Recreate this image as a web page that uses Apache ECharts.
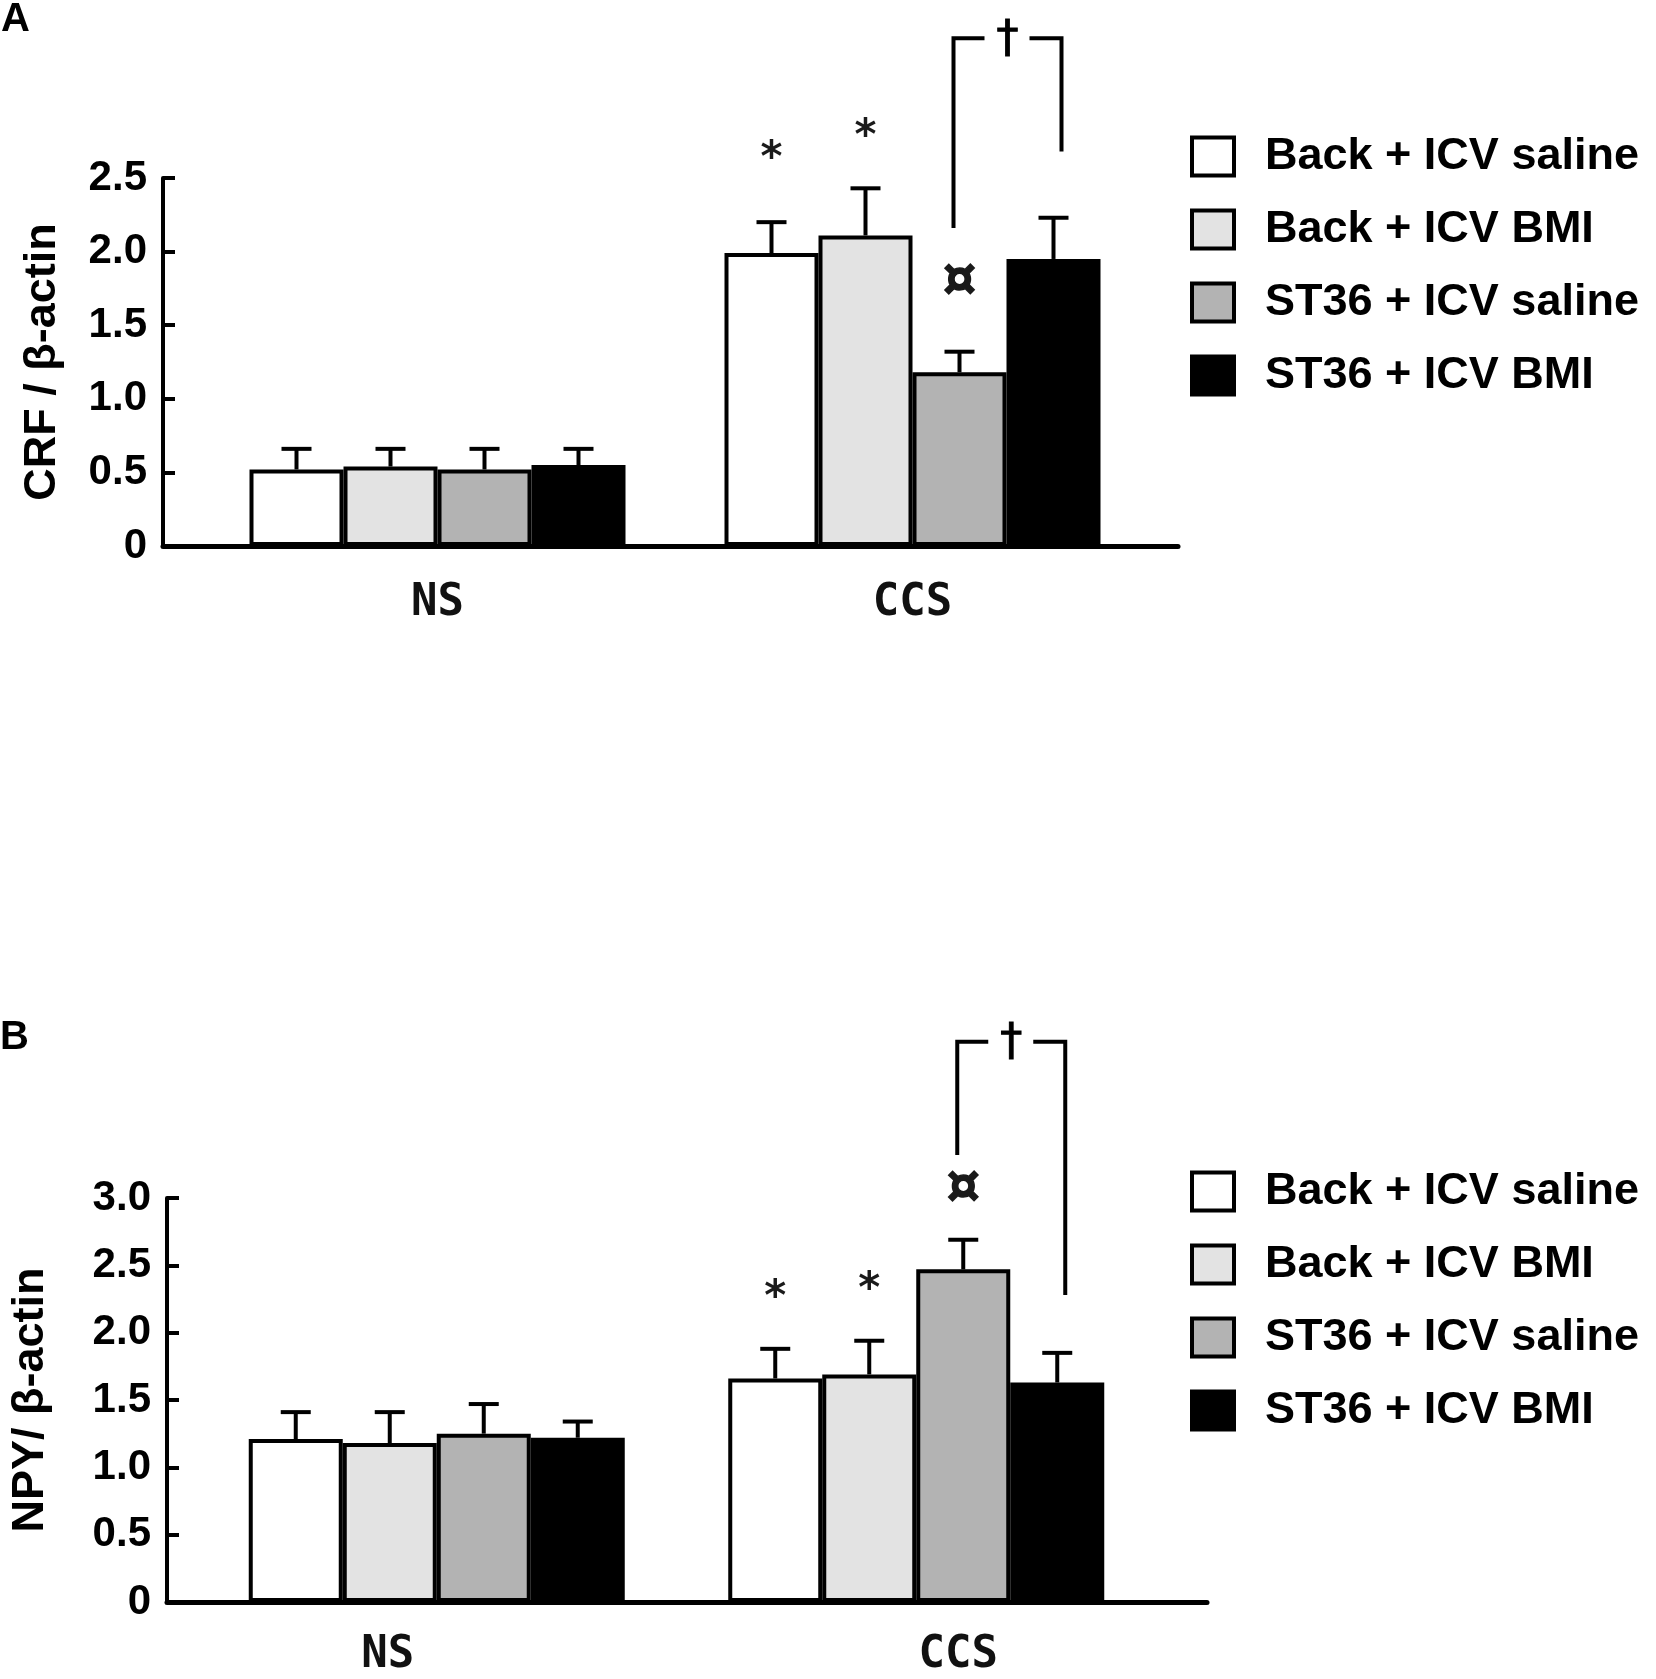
<!DOCTYPE html>
<html>
<head>
<meta charset="utf-8">
<script src="https://cdn.jsdelivr.net/npm/echarts@6/dist/echarts.min.js"></script>
<style>html,body{margin:0;padding:0;background:#fff;}#c{width:1656px;height:1679px;}</style>
</head>
<body>
<div id="c"></div>
<script>
// ---------- data ----------
const categories = ['NS', 'CCS'];
const seriesNames = ['Back + ICV saline', 'Back + ICV BMI', 'ST36 + ICV saline', 'ST36 + ICV BMI'];
const barColors = ['#ffffff', '#e3e3e3', '#b3b3b3', '#000000'];

// Panel A: CRF / beta-actin  (mean per category [NS, CCS]) and SEM
const crfBackSaline = [0.52, 1.99];
const crfBackBMI    = [0.54, 2.11];
const crfST36Saline = [0.52, 1.18];
const crfST36BMI    = [0.55, 1.95];
const crfBackSalineErr = [0.14, 0.21];
const crfBackBMIErr    = [0.12, 0.32];
const crfST36SalineErr = [0.14, 0.14];
const crfST36BMIErr    = [0.11, 0.28];

// Panel B: NPY / beta-actin
const npyBackSaline = [1.21, 1.66];
const npyBackBMI    = [1.18, 1.69];
const npyST36Saline = [1.25, 2.47];
const npyST36BMI    = [1.22, 1.63];
const npyBackSalineErr = [0.20, 0.22];
const npyBackBMIErr    = [0.23, 0.25];
const npyST36SalineErr = [0.22, 0.22];
const npyST36BMIErr    = [0.12, 0.22];

const crfTicks = { min: 0, max: 2.5, interval: 0.5 };
const npyTicks = { min: 0, max: 3.0, interval: 0.5 };

// significance marks: [categoryIndex, seriesIndex, yValue, symbol]
const crfMarks = [[1, 0, 2.62, '*'], [1, 1, 2.77, '*'], [1, 2, 1.80, '¤']];
const npyMarks = [[1, 0, 2.25, '*'], [1, 1, 2.31, '*'], [1, 2, 3.07, '¤']];
// brackets: [categoryIndex, fromSeries, toSeries, leftBottomY, rightBottomY, topY]
const crfBracket = [[1, 2, 3, 2.16, 2.68, 3.45]];
const npyBracket = [[1, 2, 3, 3.32, 2.28, 4.16]];

// ---------- layout/style ----------
const BAR_W = 94;
const FONT = 'Liberation Sans';
const LW = 4;

function errData(means, errs) {
  const out = [];
  means.forEach((m, s) => m.forEach((v, c) => out.push([c, v, errs[s][c], s])));
  return out;
}
function xOf(api, cat, s) {
  return api.coord([cat, 0])[0] + (s - 1.5) * BAR_W;
}
function errRender(params, api) {
  const cat = api.value(0), mean = api.value(1), err = api.value(2), s = api.value(3);
  const x = xOf(api, cat, s);
  const y0 = api.coord([cat, mean])[1];
  const y1 = api.coord([cat, mean + err])[1];
  const st = { stroke: '#000', lineWidth: LW };
  return { type: 'group', children: [
    { type: 'line', shape: { x1: x, y1: y0, x2: x, y2: y1 }, style: st },
    { type: 'line', shape: { x1: x - 15, y1: y1, x2: x + 15, y2: y1 }, style: st }
  ]};
}
function markRender(marks) {
  return function (params, api) {
    const m = marks[params.dataIndex];
    const x = xOf(api, m[0], m[1]);
    const y = api.coord([m[0], m[2]])[1];
    const isStar = m[3] === '*';
    return { type: 'text', x: x, y: y, style: {
      text: m[3], fill: '#1a1a1a', align: 'center', verticalAlign: 'middle',
      font: isStar ? 'bold 42px "DejaVu Sans"' : 'bold 52px "DejaVu Sans"',
      stroke: isStar ? null : '#1a1a1a', lineWidth: isStar ? 0 : 1.5
    }};
  };
}
function bracketRender(params, api) {
  const cat = api.value(0), a = api.value(1), b = api.value(2);
  const xl = xOf(api, cat, a) - 6, xr = xOf(api, cat, b) + 8;
  const yl = api.coord([cat, api.value(3)])[1];
  const yr = api.coord([cat, api.value(4)])[1];
  const yt = api.coord([cat, api.value(5)])[1];
  const xm = (xl + xr) / 2;
  const st = { stroke: '#000', lineWidth: LW, fill: null };
  return { type: 'group', children: [
    { type: 'polyline', shape: { points: [[xl, yl], [xl, yt], [xm - 23, yt]] }, style: st },
    { type: 'polyline', shape: { points: [[xm + 22, yt], [xr, yt], [xr, yr]] }, style: st },
    { type: 'text', x: xm, y: yt + 2, style: { text: '†', fill: '#000', align: 'center', verticalAlign: 'middle', font: '44px "DejaVu Sans"', stroke: '#000', lineWidth: 1 } }
  ]};
}

const crfMeans = [crfBackSaline, crfBackBMI, crfST36Saline, crfST36BMI];
const crfErrs = [crfBackSalineErr, crfBackBMIErr, crfST36SalineErr, crfST36BMIErr];
const npyMeans = [npyBackSaline, npyBackBMI, npyST36Saline, npyST36BMI];
const npyErrs = [npyBackSalineErr, npyBackBMIErr, npyST36SalineErr, npyST36BMIErr];

function barSeries(means, axisIdx) {
  return means.map((d, i) => ({
    type: 'bar', name: seriesNames[i], xAxisIndex: axisIdx, yAxisIndex: axisIdx,
    data: d, barWidth: BAR_W, barGap: '0%',
    itemStyle: { color: barColors[i], borderColor: '#000', borderWidth: LW },
    z: 2
  }));
}

function frameY(gridIndex, ticks, name, nameGap) {
  return {
    gridIndex, type: 'value', min: ticks.min, max: ticks.max, interval: ticks.interval,
    axisLine: { show: true, lineStyle: { color: '#000', width: LW } },
    axisTick: { show: true, inside: true, length: 12, lineStyle: { color: '#000', width: LW } },
    splitLine: { show: false },
    axisLabel: { margin: 16, color: '#000', fontFamily: FONT, fontWeight: 'bold', fontSize: 42,
      formatter: v => v === 0 ? '0' : v.toFixed(1) },
    name, nameLocation: 'middle', nameGap,
    nameTextStyle: { color: '#000', fontFamily: FONT, fontWeight: 'bold', fontSize: 45 }
  };
}
function hiddenY(gridIndex, ticks) {
  return { gridIndex, type: 'value', min: ticks.min, max: ticks.max, interval: ticks.interval, show: false };
}
function frameX(gridIndex) {
  return { gridIndex, type: 'value', min: 0, max: 1,
    axisLine: { show: true, onZero: false, lineStyle: { color: '#000', width: LW + 1 } },
    axisTick: { show: false }, axisLabel: { show: false }, splitLine: { show: false } };
}
const catLabelStyle = { color: '#111', fontFamily: 'DejaVu Sans Mono', fontWeight: 'bold', fontSize: 44 };

function legend(top) {
  return {
    data: seriesNames, orient: 'vertical', left: 1190, top, padding: 0,
    itemWidth: 42, itemHeight: 38, itemGap: 28, icon: 'rect',
    itemStyle: { borderColor: '#000', borderWidth: 4 },
    textStyle: { color: '#000', fontFamily: FONT, fontWeight: 'bold', fontSize: 45, lineHeight: 38, padding: [0, 0, 0, 26] }
  };
}

const option = {
  animation: false,
  backgroundColor: '#fff',
  title: [
    { text: 'A', left: 1, top: 0, padding: 0, textStyle: { fontFamily: FONT, fontWeight: 'bold', fontSize: 40, color: '#000' } },
    { text: 'B', left: 0, top: 1018, padding: 0, textStyle: { fontFamily: FONT, fontWeight: 'bold', fontSize: 40, color: '#000' } }
  ],
  legend: [legend(134), legend(1169)],
  grid: [
    { left: 163, right: 478, top: 178, bottom: 1133 },
    { left: 200, right: 506, top: 178, bottom: 1133 },
    { left: 164, right: 449, top: 1198, bottom: 77 },
    { left: 197, right: 500, top: 1198, bottom: 77 }
  ],
  xAxis: [
    frameX(0),
    { gridIndex: 1, type: 'category', data: categories, axisLine: { show: false }, axisTick: { show: false },
      axisLabel: Object.assign({ margin: 36 }, catLabelStyle) },
    frameX(2),
    { gridIndex: 3, type: 'category', data: categories, axisLine: { show: false }, axisTick: { show: false },
      axisLabel: { margin: 32, formatter: v => (v === 'NS' ? '{l|' : '{r|') + v + '}',
        rich: { l: Object.assign({ padding: [0, 98, 0, 0] }, catLabelStyle), r: Object.assign({ padding: [0, 0, 0, 84] }, catLabelStyle) } } }
  ],
  yAxis: [
    frameY(0, crfTicks, 'CRF / β-actin', 98),
    hiddenY(1, crfTicks),
    frameY(2, npyTicks, 'NPY/ β-actin', 114),
    hiddenY(3, npyTicks)
  ],
  series: [
    ...barSeries(crfMeans, 1),
    { type: 'custom', name: 'crfErr', xAxisIndex: 1, yAxisIndex: 1, data: errData(crfMeans, crfErrs), renderItem: errRender, z: 3, silent: true },
    { type: 'custom', name: 'crfMarks', xAxisIndex: 1, yAxisIndex: 1, data: crfMarks.map(m => [m[0], m[2]]), renderItem: markRender(crfMarks), z: 4, silent: true },
    { type: 'custom', name: 'crfBracket', xAxisIndex: 1, yAxisIndex: 1, data: crfBracket, renderItem: bracketRender, z: 4, silent: true },
    ...barSeries(npyMeans, 3),
    { type: 'custom', name: 'npyErr', xAxisIndex: 3, yAxisIndex: 3, data: errData(npyMeans, npyErrs), renderItem: errRender, z: 3, silent: true },
    { type: 'custom', name: 'npyMarks', xAxisIndex: 3, yAxisIndex: 3, data: npyMarks.map(m => [m[0], m[2]]), renderItem: markRender(npyMarks), z: 4, silent: true },
    { type: 'custom', name: 'npyBracket', xAxisIndex: 3, yAxisIndex: 3, data: npyBracket, renderItem: bracketRender, z: 4, silent: true }
  ]
};

const chart = echarts.init(document.getElementById('c'), null, { renderer: 'canvas' });
chart.setOption(option);
</script>
</body>
</html>
